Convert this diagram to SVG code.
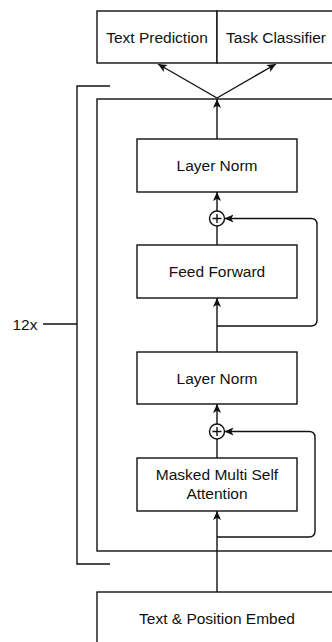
<svg xmlns="http://www.w3.org/2000/svg" width="332" height="642" viewBox="0 0 332 642">
  <style>
    .box { fill: #ffffff; stroke: #111111; stroke-width: 1.4; }
    .edge { fill: none; stroke: #111111; stroke-width: 1.4; }
    .lbl { font-family: "Liberation Sans", Arial, Helvetica, sans-serif; font-size: 15.5px; fill: #111111; text-anchor: middle; }
  </style>
  <defs>
    <marker id="arrow" viewBox="0 0 10 10" refX="10" refY="5" markerWidth="9" markerHeight="9" orient="auto" markerUnits="userSpaceOnUse">
      <path d="M0,0.5 L10,5 L0,9.5 L2.5,5 z" fill="#111111"/>
    </marker>
  </defs>
  <rect width="332" height="642" fill="#ffffff"/>

  <!-- repeated block frame and bracket -->
  <g id="block-frame">
    <rect class="box" x="97" y="99" width="260" height="452" fill="none"/>
  </g>
  <g id="repeat-bracket">
    <path class="edge" d="M110,86 H77 V564 H110"/>
    <path class="edge" d="M43,324 H77"/>
    <text class="lbl" x="25" y="330">12x</text>
  </g>

  <!-- output heads -->
  <g id="text-prediction">
    <rect class="box" x="97" y="11" width="120" height="52"/>
    <text class="lbl" x="157" y="42.5">Text Prediction</text>
  </g>
  <g id="task-classifier">
    <rect class="box" x="217" y="11" width="120" height="52"/>
    <text class="lbl" x="276" y="42.5">Task Classifier</text>
  </g>

  <!-- transformer block -->
  <g id="layer-norm-2">
    <rect class="box" x="137" y="139" width="160" height="53"/>
    <text class="lbl" x="217" y="171">Layer Norm</text>
  </g>
  <g id="add-2">
    <circle class="box" cx="217" cy="218.5" r="7.5"/>
    <path class="edge" d="M212.5,218.5 H221.5 M217,214 V223"/>
  </g>
  <g id="feed-forward">
    <rect class="box" x="137" y="245" width="160" height="53"/>
    <text class="lbl" x="217" y="277">Feed Forward</text>
  </g>
  <g id="layer-norm-1">
    <rect class="box" x="137" y="352" width="160" height="52"/>
    <text class="lbl" x="217" y="383.5">Layer Norm</text>
  </g>
  <g id="add-1">
    <circle class="box" cx="217" cy="431.5" r="7.5"/>
    <path class="edge" d="M212.5,431.5 H221.5 M217,427 V436"/>
  </g>
  <g id="masked-attention">
    <rect class="box" x="137" y="458" width="160" height="53"/>
    <text class="lbl" x="217" y="480">Masked Multi Self</text>
    <text class="lbl" x="217" y="499">Attention</text>
  </g>

  <!-- input embedding -->
  <g id="embed">
    <rect class="box" x="97" y="592" width="240" height="60"/>
    <text class="lbl" x="217" y="624">Text &amp; Position Embed</text>
  </g>

  <!-- connectors -->
  <g id="connectors">
    <path class="edge" d="M217,98 L158,64" marker-end="url(#arrow)"/>
    <path class="edge" d="M217,98 L276,64" marker-end="url(#arrow)"/>
    <path class="edge" d="M217,139 V99" marker-end="url(#arrow)"/>
    <path class="edge" d="M217,211 V192" marker-end="url(#arrow)"/>
    <path class="edge" d="M217,245 V226"/>
    <path class="edge" d="M217,352 V298" marker-end="url(#arrow)"/>
    <path class="edge" d="M217,326 H311 Q317,326 317,320 V224.5 Q317,218.5 311,218.5 H224.5" marker-end="url(#arrow)"/>
    <path class="edge" d="M217,424 V404" marker-end="url(#arrow)"/>
    <path class="edge" d="M217,458 V439"/>
    <path class="edge" d="M217,592 V511" marker-end="url(#arrow)"/>
    <path class="edge" d="M217,537 H309 Q315,537 315,531 V437.5 Q315,431.5 309,431.5 H224.5" marker-end="url(#arrow)"/>
  </g>
</svg>
